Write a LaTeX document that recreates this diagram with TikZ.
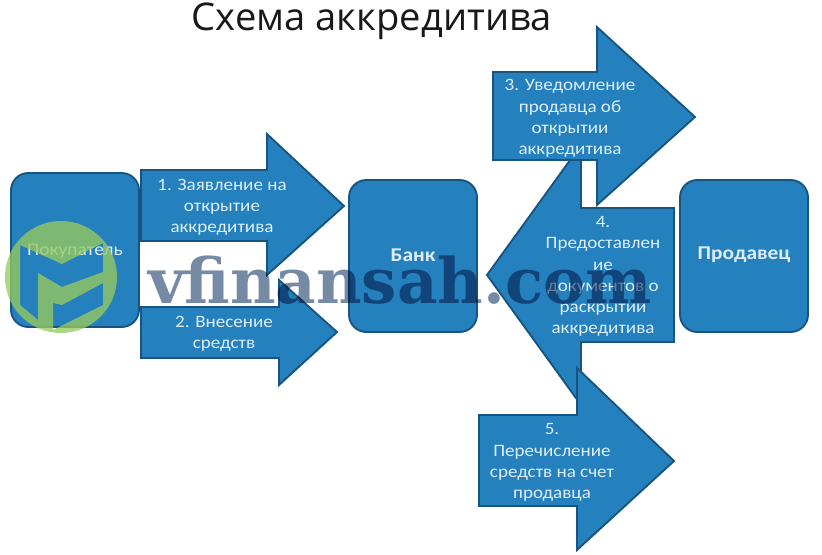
\documentclass[tikz,border=0pt]{standalone}
\usepackage{fontspec}
\setmainfont{Carlito}
\newfontfamily\labelfont[FakeStretch=1.1]{Carlito}
\newfontfamily\titlefont{Open Sans}
\newfontfamily\markfont{DejaVu Serif}
\usetikzlibrary{calc}
\definecolor{fillblue}{RGB}{37,128,190}
\definecolor{edgeblue}{RGB}{24,84,128}
\definecolor{labelblue}{RGB}{222,238,248}
\definecolor{markgreen}{RGB}{152,203,93}
\definecolor{markgrey}{RGB}{118,138,165}
\tikzset{
  x=0.75pt,y=-0.75pt,
  shapeblue/.style={draw=edgeblue,fill=fillblue,line width=1.4pt,line join=miter},
  boxblue/.style={shapeblue,rounded corners=13pt},
  lbl/.style={text=labelblue,font=\labelfont\fontsize{13}{15.9}\selectfont,align=center,inner sep=0pt},
  lblbig/.style={text=labelblue,font=\labelfont\bfseries\fontsize{14.6}{17}\selectfont,align=center,inner sep=0pt},
}
\begin{document}
\begin{tikzpicture}
\useasboundingbox (0,0) rectangle (822,554);
\fill[white] (0,0) rectangle (822,554);
\node[inner sep=0pt,font=\titlefont\fontsize{28.6}{32}\selectfont,text=black!90] (title) at (372,21) {Схема аккредитива};
% boxes
\draw[boxblue] (11,173) rectangle (139,327);
\draw[boxblue] (349,180) rectangle (477,332);
\draw[boxblue] (680,180) rectangle (808,332);
% arrows
\draw[shapeblue] (141,170) -- (267,170) -- (267,134) -- (344,206) -- (267,275) -- (267,241) -- (141,241) -- cycle;
\draw[shapeblue] (141,307) -- (279,307) -- (279,280) -- (337,332) -- (279,385) -- (279,358) -- (141,358) -- cycle;
\draw[shapeblue] (674,208) -- (581,208) -- (581,145) -- (487,275) -- (581,405) -- (581,342) -- (674,342) -- cycle;
\draw[shapeblue] (493,72) -- (597,72) -- (597,27) -- (695,117) -- (597,205) -- (597,160) -- (493,160) -- cycle;
\draw[shapeblue] (479,415) -- (577,415) -- (577,368) -- (674,461) -- (577,550) -- (577,506) -- (479,506) -- cycle;
% labels
\node[lbl,font=\labelfont\fontsize{13.3}{16}\selectfont] (lbuyer) at (75,251) {Покупатель};
\node[lblbig] (lbank) at (413,255) {Банк};
\node[lblbig] (lseller) at (744,255) {Продавец};
\node[lbl] (l1) at (222,207.5) {1. Заявление на\\открытие\\аккредитива};
\node[lbl] (l2) at (224,334) {2. Внесение\\средств};
\node[lbl] (l3) at (570,118.5) {3. Уведомление\\продавца об\\открытии\\аккредитива};
\node[lbl] (l4) at (603,276.5) {4.\\Предоставлен\\ие\\документов о\\раскрытии\\аккредитива};
\node[lbl] (l5) at (552,462.5) {5.\\Перечисление\\средств на счет\\продавца};
% watermark
\fill[markgreen,opacity=.77,even odd rule] (61,277) circle (56)
  (20,245) -- (62,264) -- (103,243) -- (103,272) -- (62,287) -- (38,273) -- (38,320) -- (20,305) -- cycle
  (53,303) -- (62,305) -- (103,283) -- (103,305) -- (53,330) -- cycle;
\begin{scope}[blend mode=multiply]
\node[inner sep=0pt,anchor=base west,font=\markfont\bfseries\fontsize{47}{51}\selectfont,text=markgrey] (wm) at (148,303) {vfinansah.com};
\end{scope}
\end{tikzpicture}
\end{document}
